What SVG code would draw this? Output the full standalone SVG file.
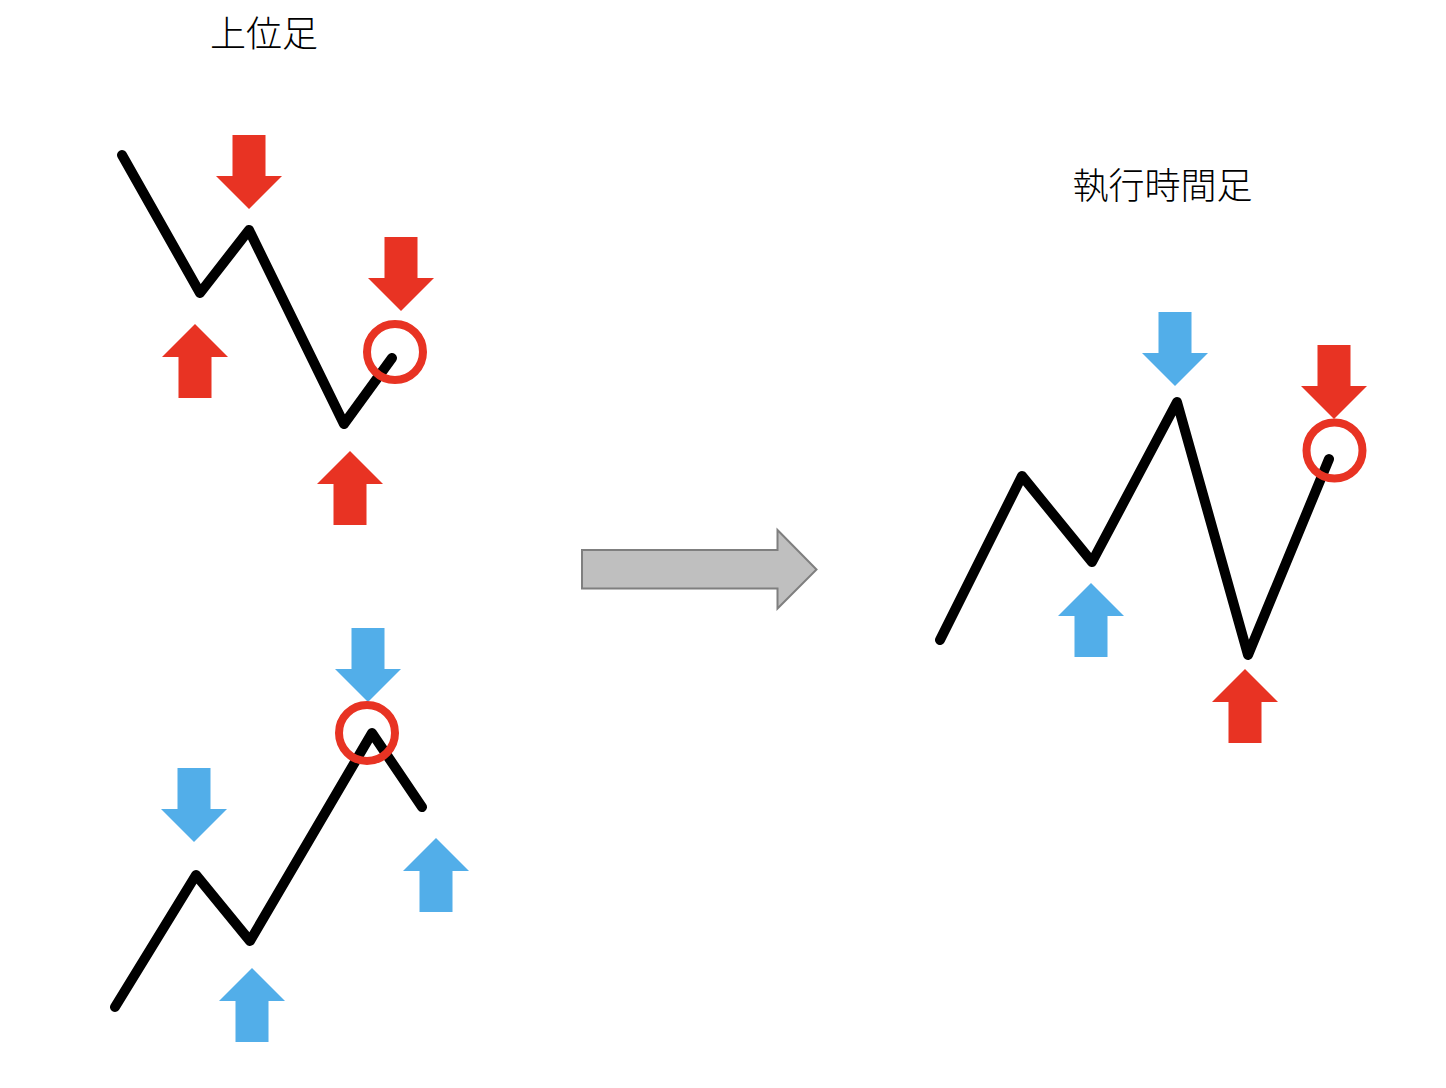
<svg xmlns="http://www.w3.org/2000/svg" width="1446" height="1088" viewBox="0 0 1446 1088">
<defs>
<style>
.ttl{font-family:"Noto Sans CJK JP","Noto Sans CJK SC",sans-serif;font-size:36px;font-weight:300;fill:#000;text-anchor:middle}
.line{fill:none;stroke:#000;stroke-width:10;stroke-linecap:round;stroke-linejoin:round}
.red{fill:#E83323}
.blue{fill:#52AEE9}
.ring{fill:none;stroke:#E83323;stroke-width:8}
</style>
<path id="dn" d="M-16.5,-74 H16.5 V-33 H33 L0,0 L-33,-33 H-16.5 Z"/>
<path id="up" d="M-16.5,74 H16.5 V33 H33 L0,0 L-33,33 H-16.5 Z"/>
</defs>
<rect width="1446" height="1088" fill="#fff"/>
<g id="title-upper"><text class="ttl" x="264" y="47">上位足</text></g>
<g id="title-exec"><text class="ttl" x="1162.5" y="199">執行時間足</text></g>
<g id="connectors">
<polyline class="line" points="122,155 200,293 249,230 344,424 392,358"/>
<polyline class="line" points="115,1007 196,875 250,941 372,733 422,807"/>
<polyline class="line" points="940,640 1022,476 1092,562 1177,402 1248,655 1329,459"/>
</g>
<g id="upper-top">
<use href="#dn" class="red" x="249" y="209"/>
<use href="#up" class="red" x="195" y="324"/>
<use href="#dn" class="red" x="401" y="311"/>
<use href="#up" class="red" x="350" y="451"/>
<circle class="ring" cx="395" cy="352" r="28"/>
</g>
<g id="upper-bottom">
<use href="#dn" class="blue" x="368" y="702"/>
<use href="#dn" class="blue" x="194" y="842"/>
<use href="#up" class="blue" x="436" y="838"/>
<use href="#up" class="blue" x="252" y="968"/>
<circle class="ring" cx="367" cy="733" r="28"/>
</g>
<g id="big-arrow">
<path d="M582,550 H777.5 V530 L816.5,569.5 L777.5,608.5 V588.5 H582 Z" fill="#BFBFBF" stroke="#7F7F7F" stroke-width="2"/>
</g>
<g id="exec">
<use href="#dn" class="blue" x="1175" y="386"/>
<use href="#dn" class="red" x="1334" y="419"/>
<use href="#up" class="blue" x="1091" y="583"/>
<use href="#up" class="red" x="1245" y="669"/>
<circle class="ring" cx="1334.5" cy="450.5" r="28"/>
</g>
</svg>
